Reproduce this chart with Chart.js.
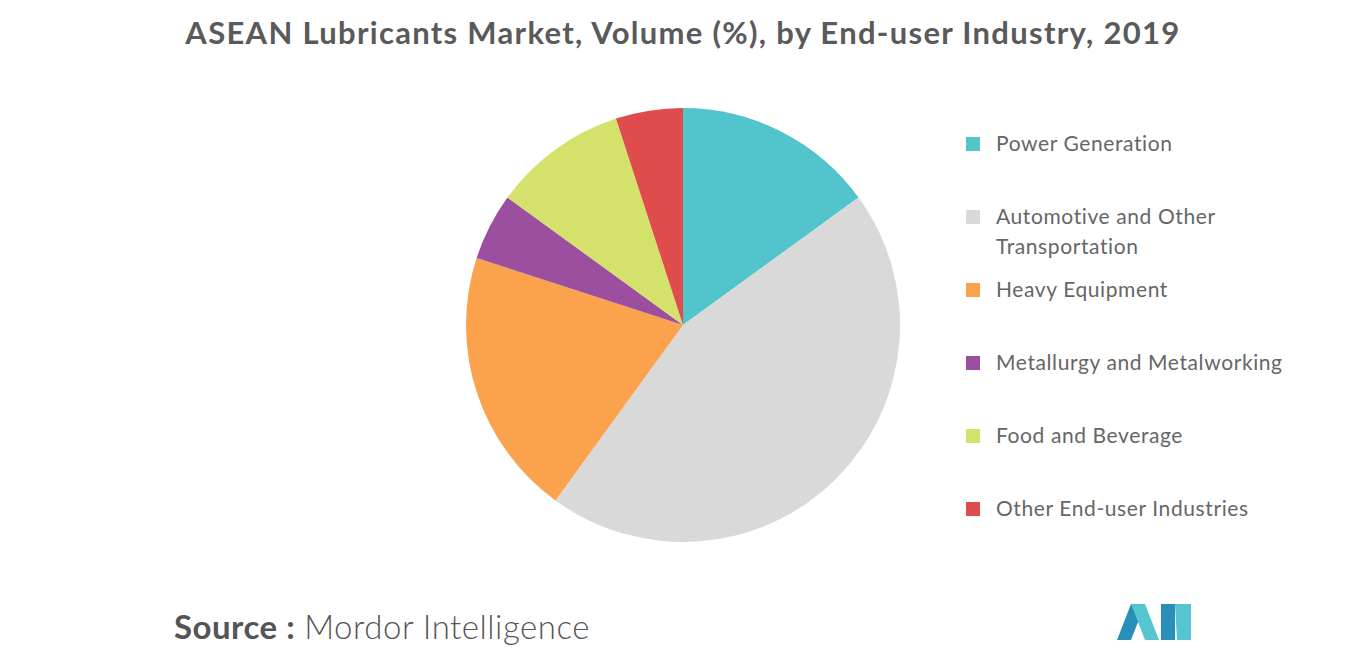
<!DOCTYPE html>
<html><head><meta charset="utf-8">
<script src="https://cdn.jsdelivr.net/npm/chart.js@4/dist/chart.umd.min.js"></script>
<style>
body{margin:0;width:1366px;height:655px;background:#fff;font-family:Lato,"Open Sans",sans-serif;position:relative;overflow:hidden}
#title{position:absolute;top:13px;left:0;width:1366px;text-align:center;font-size:31px;font-weight:700;color:#5a5a5a;letter-spacing:1.3px}
#wrap{position:absolute;left:464px;top:106px;width:438px;height:438px}
#legend{position:absolute;left:966px;top:128px;font-size:21px;color:#666;font-weight:400;letter-spacing:0.6px}
.li{position:absolute;left:0;white-space:nowrap;line-height:30px}
.sw{position:absolute;left:0;top:9px;width:14px;height:14px}
.tx{position:absolute;left:30px;top:0}
#src{position:absolute;left:174px;top:606px;font-size:33px;color:#555;letter-spacing:0.5px}
#src b{font-weight:700;color:#555}
</style></head><body>
<div id="title">ASEAN Lubricants Market, Volume (%), by End-user Industry, 2019</div>
<div id="wrap"><canvas id="c"></canvas></div>
<div id="legend"></div>
<div id="src"><b>Source :</b> <span style="font-weight:300">Mordor Intelligence</span></div>
<svg style="position:absolute;left:1117px;top:604px" width="74" height="36">
<polygon points="0,36 14,0 28,0 14,36" fill="#2a8fb8"/>
<polygon points="14,0 28,0 42,36 28,36" fill="#55c6d0"/>
<polygon points="44,36 44,0 58,0 58,36" fill="#2a8fb8"/>
<polygon points="58,0 74,0 74,36 60,36" fill="#55c6d0"/>
</svg>
<script>
const categories=["Power Generation","Automotive and Other\nTransportation","Heavy Equipment","Metallurgy and Metalworking","Food and Beverage","Other End-user Industries"];
const values=[15,45,20,5,10,5];
const colors=["#52C5CC","#D9D9D9","#FBA34C","#9C4F9F","#D4E26C","#E04B4C"];
const legendTops=[0,73,146,219,292,365];
const lg=document.getElementById('legend');
categories.forEach((c,i)=>{const d=document.createElement('div');d.className='li';d.style.top=legendTops[i]+'px';
d.innerHTML='<div class="sw" style="background:'+colors[i]+'"></div><div class="tx">'+c.replace('\n','<br>')+'</div>';lg.appendChild(d);});
new Chart(document.getElementById('c'),{type:'pie',data:{labels:categories,datasets:[{data:values,backgroundColor:colors,borderWidth:0}]},
options:{responsive:true,maintainAspectRatio:false,animation:false,layout:{padding:2},plugins:{legend:{display:false},tooltip:{enabled:false}}}});
</script></body></html>
